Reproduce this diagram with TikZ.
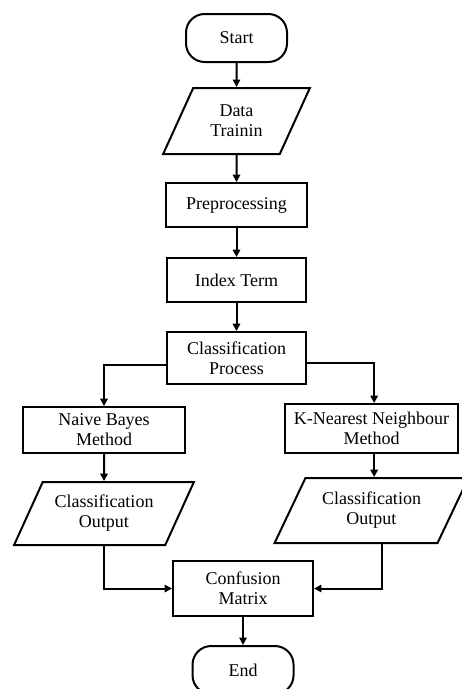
\documentclass[tikz,border=0pt]{standalone}
\usepackage{fontspec}
\setmainfont{Liberation Serif}
\usepackage{tikz}
\usetikzlibrary{shapes.geometric, arrows.meta, positioning}
\tikzstyle{startstop} = [rectangle, draw, rounded corners=14pt, minimum width=75.75pt, minimum height=36pt, text centered, line width=1.5pt]
\tikzstyle{io} = [trapezium, draw, trapezium stretches=true, trapezium left angle=63, trapezium right angle=117, align=center, inner xsep=0pt, line width=1.5pt]
\tikzstyle{process} = [rectangle, draw, align=center, line width=1.5pt]
\tikzstyle{arrow} = [draw, -{Triangle[length=5.5pt, width=5.5pt]}, line width=1.5pt]

\begin{document}
\begin{tikzpicture}[x=0.75pt, y=-0.75pt, font=\fontsize{13.5}{15}\selectfont]
  \useasboundingbox (0,0) rectangle (461,689);

  % Alur utama
  \node (start) [startstop] at (236.5,38) {Start};
  \node (data) [io, below=18pt of start, minimum width=110.25pt, minimum height=49.5pt, trapezium left angle=66, trapezium right angle=114] {Data\\Trainin};
  \node (prep) [process, below=20.25pt of data, minimum width=105.75pt, minimum height=33pt] {Preprocessing};
  \node (index) [process, below=21.75pt of prep, minimum width=104.25pt, minimum height=33pt] {Index Term};
  \node (class) [process, below=21pt of index, minimum width=104.25pt, minimum height=39pt] {Classification\\Process};

  % Cabang kiri dan kanan
  \node (naive) [process, below left=15.75pt and -15pt of class, minimum width=121.5pt, minimum height=34.5pt] {Naive Bayes\\Method};
  \node (knn) [process, below right=13.5pt and -17.25pt of class, minimum width=129.75pt, minimum height=36.75pt] {K-Nearest Neighbour\\Method};
  \node (outleft) [io, below=20.25pt of naive, minimum width=135pt, minimum height=47.25pt] {Classification\\Output};
  \node (outright) [io, below=17.25pt of knn, minimum width=145.5pt, minimum height=48.75pt] {Classification\\Output};

  % Hasil akhir
  \node (confusion) [process, below=131.25pt of class, xshift=4.9pt, minimum width=105pt, minimum height=41.25pt] {Confusion\\Matrix};
  \node (end) [startstop, below=21pt of confusion] {End};

  % Panah
  \draw [arrow] (start) -- (data);
  \draw [arrow] (data) -- (prep);
  \draw [arrow] (prep) -- (index);
  \draw [arrow] (index) -- (class);
  \draw [arrow] ([yshift=-5pt]class.west) -| (naive.north);
  \draw [arrow] ([yshift=-4pt]class.east) -| ([xshift=2pt]knn.north);
  \draw [arrow] (naive) -- (outleft);
  \draw [arrow] ([xshift=2pt]knn.south) -- ([xshift=2pt]outright.north);
  \draw [arrow] (outleft.south) |- (confusion.west);
  \draw [arrow] ([xshift=7.5pt]outright.south) |- (confusion.east);
  \draw [arrow] (confusion) -- (end);

\end{tikzpicture}
\end{document}
